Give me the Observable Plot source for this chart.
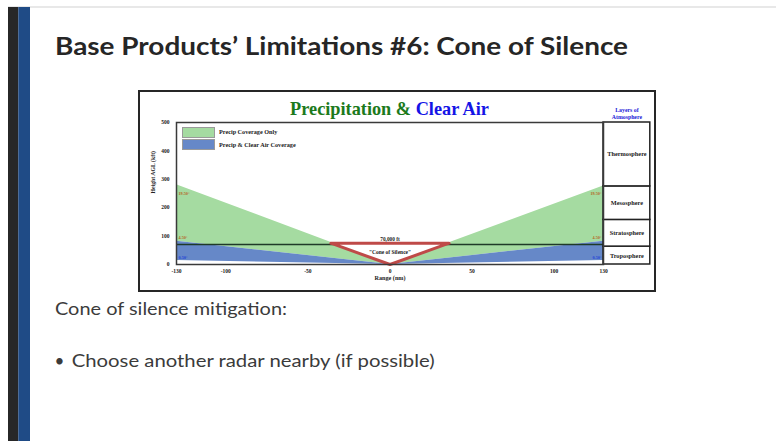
<!DOCTYPE html>
<html>
<head>
<meta charset="utf-8">
<script src="https://cdn.jsdelivr.net/npm/d3@7"></script>
<script src="https://cdn.jsdelivr.net/npm/@observablehq/plot@0.6"></script>
<style>
  html, body { margin: 0; padding: 0; background: #fff; }
  body { width: 776px; height: 441px; position: relative; overflow: hidden; }
  .abs { position: absolute; }
  #chart { left: 138px; top: 90px; width: 514px; height: 198px; border: 2px solid #262626; background: #fff; }
  #chart svg { position: absolute; left: 0; top: 0; }
  .sw { position: absolute; width: 31px; height: 9px; border: 1px solid #9a9a9a; }
  .lg { position: absolute; font: bold 6.2px "Liberation Serif", serif; color: #222; white-space: nowrap; line-height: 6px; }
</style>
</head>
<body>
<svg id="slide" class="abs" width="776" height="441" style="left:0;top:0">
  <rect x="8" y="6.5" width="768" height="1" fill="#d2d2d2"></rect>
  <rect x="8" y="7" width="10.3" height="434" fill="#272727"></rect>
  <rect x="18.3" y="7" width="11.7" height="434" fill="#1f4b86"></rect>
  <text x="55" y="55" font-family="Lato, 'Open Sans', sans-serif" font-weight="700" font-size="25" fill="#262626" textLength="573" lengthAdjust="spacingAndGlyphs">Base Products’ Limitations #6: Cone of Silence</text>
  <text x="55" y="315" font-family="Lato, 'Open Sans', sans-serif" font-size="17.5" fill="#3b3b3b" textLength="232" lengthAdjust="spacingAndGlyphs">Cone of silence mitigation:</text>
  <text x="54.5" y="366.5" font-family="Lato, 'Open Sans', sans-serif" font-size="17" fill="#3b3b3b">•</text>
  <text x="71.7" y="367.3" font-family="Lato, 'Open Sans', sans-serif" font-size="17.5" fill="#3b3b3b" textLength="363" lengthAdjust="spacingAndGlyphs">Choose another radar nearby (if possible)</text>
</svg>
<div id="chart" class="abs">
  <div class="sw" style="left:42px;top:34.5px;background:#a5dba1"></div>
  <div class="sw" style="left:42px;top:47px;background:#6688c8"></div>
  <div class="lg" style="left:79px;top:37px">Precip Coverage Only</div>
  <div class="lg" style="left:79px;top:49.5px">Precip &amp; Clear Air Coverage</div>
</div>
<script>
// ---- data ----
const rangeNm = [-130, 0, 130];
const beamTop195 = [281, 0, 276];   // 19.5° beam height (kft)
const beamTop45 = [82, 0, 82];      // 4.5° beam height (kft)
const beamTop05 = [14, 0, 14];      // 0.5° beam height (kft)
const coneRange = [-36, 0, 36];
const coneHeight = 75;
const refLineHeight = 70;
const refLineLabel = "70,000 ft";
const coneLabel = "\"Cone of Silence\"";
const coneLabelHeight = 43;
const refLabelHeight = 88;
const layerNames = ["Troposphere", "Stratosphere", "Mesosphere", "Thermosphere"];
const layerBottom = [0, 63, 157, 275];
const layerTop = [63, 157, 275, 500];
const layerColLeft = 130;
const layerColRight = 158.5;
const angleNames = ["19.50°", "4.50°", "0.50°"];
const angleHeights = [250, 95, 25];
const xTicks = [-130, -100, -50, 0, 50, 100, 130];
const yTicks = [0, 100, 200, 300, 400, 500];

// ---- derived tables ----
const green = rangeNm.map((x, i) => ({x, lo: beamTop45[i], hi: beamTop195[i]}));
const blue = rangeNm.map((x, i) => ({x, lo: beamTop05[i], hi: beamTop45[i]}));
const coneFill = coneRange.map((x, i) => ({x, lo: i === 1 ? 0 : coneHeight, hi: coneHeight}));
const coneOutline = [
  {x: coneRange[0], y: coneHeight}, {x: coneRange[2], y: coneHeight},
  {x: coneRange[1], y: 0}, {x: coneRange[0], y: coneHeight}
];
const layers = layerNames.map((name, i) => ({name, y1: layerBottom[i], y2: layerTop[i]}));
const angles = angleNames.map((t, k) => ({t, y: angleHeights[k], k}));
const angleColor = d => (d.k === 2 ? "#2442d8" : "#b5661f");

const plot = Plot.plot({
  width: 514,
  height: 198,
  marginLeft: 36,
  marginRight: 51,
  marginTop: 30,
  marginBottom: 26,
  style: {fontFamily: "'Liberation Serif', serif", fontSize: "5.5px", fontWeight: "bold", color: "#222", background: "transparent"},
  x: {domain: [-130, 130]},
  y: {domain: [0, 500]},
  marks: [
    Plot.areaY(green, {x: "x", y1: "lo", y2: "hi", fill: "#a5dba1"}),
    Plot.areaY(blue, {x: "x", y1: "lo", y2: "hi", fill: "#6688c8"}),
    Plot.ruleY([refLineHeight], {x1: rangeNm[0], x2: rangeNm[2], stroke: "#1f3a28", strokeWidth: 1.5}),
    Plot.areaY(coneFill, {x: "x", y1: "lo", y2: "hi", fill: "#ffffff"}),
    Plot.line(coneOutline, {x: "x", y: "y", stroke: "#bf4a48", strokeWidth: 3, strokeLinejoin: "round"}),
    Plot.text([refLineLabel], {x: 0, y: refLabelHeight, text: d => d, fontSize: 5.3, fill: "#222"}),
    Plot.text([coneLabel], {x: 0, y: coneLabelHeight, text: d => d, fontSize: 5.5, fill: "#222"}),
    Plot.text(angles, {x: rangeNm[0], y: "y", text: "t", fontSize: 4.2, textAnchor: "start", dx: 2, fill: angleColor}),
    Plot.text(angles, {x: rangeNm[2], y: "y", text: "t", fontSize: 4.2, textAnchor: "end", dx: -2, fill: angleColor}),
    Plot.rect(layers, {x1: layerColLeft, x2: layerColRight, y1: "y1", y2: "y2", fill: "#fff", stroke: "#222", strokeWidth: 1.5}),
    Plot.text(layers, {x: (layerColLeft + layerColRight) / 2, y: d => (d.y1 + d.y2) / 2, text: "name", fontSize: 6.3, fill: "#222"}),
    Plot.text(["Layers of\nAtmosphere"], {x: (layerColLeft + layerColRight) / 2, y: 500, text: d => d, dy: -4, lineAnchor: "bottom", fontSize: 5.8, lineHeight: 1.05, fill: "#1a1ad8"}),
    Plot.frame({stroke: "#3a3a3a", strokeWidth: 1.5}),
    Plot.axisX({ticks: xTicks, tickSize: 0, tickPadding: 5, tickFormat: d => String(d), label: null}),
    Plot.axisY({ticks: yTicks, tickSize: 0, tickPadding: 7, tickFormat: d => String(d), label: null}),
    Plot.text(["Range (nm)"], {frameAnchor: "bottom", text: d => d, dy: 15, fontSize: 6.2, fill: "#222"}),
    Plot.text(["Height AGL (kft)"], {frameAnchor: "left", text: d => d, rotate: -90, dx: -23, fontSize: 5.8, fill: "#222"})
  ]
});

// two-coloured title inside the chart
const svg = d3.select(plot);
const t = svg.append("text")
  .attr("x", 249.5).attr("y", 23)
  .attr("text-anchor", "middle")
  .attr("font-family", "'Liberation Serif', serif")
  .attr("font-weight", "bold")
  .attr("font-size", 18.3);
t.append("tspan").attr("fill", "#1c7a1c").text("Precipitation & ");
t.append("tspan").attr("fill", "#1414e6").text("Clear Air");

const chart = document.getElementById("chart");
chart.insertBefore(plot, chart.firstChild);
</script>
</body>
</html>
